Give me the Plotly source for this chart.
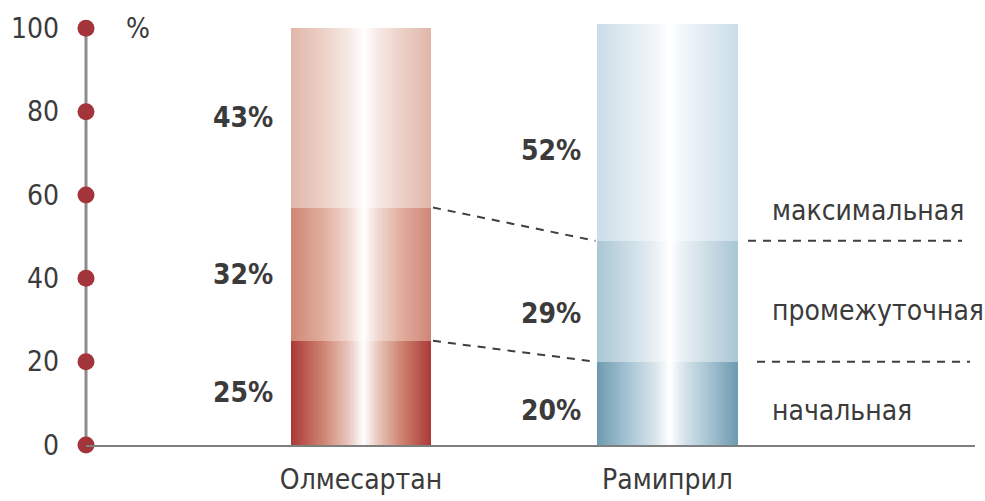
import plotly.graph_objects as go

# --- data -------------------------------------------------------------
drugs = ["Олмесартан", "Рамиприл"]
levels = ["начальная", "промежуточная", "максимальная"]
olmesartan = [25, 32, 43]
ramipril = [20, 29, 52]
y_ticks = [0, 20, 40, 60, 80, 100]

# --- styling ----------------------------------------------------------
FONT = "Liberation Sans Narrow, DejaVu Sans Condensed, Roboto, sans-serif"
TEXT = "#3b3b3b"
DOT = "#a3343a"
# (edge colour, mid-tone) for each level, bottom -> top
palette = [
    [("#ab3838", "#cf8672"), ("#cf8676", "#e1ae9f"), ("#e1b7a9", "#ecd1c7")],  # Олмесартан
    [("#6e9bb0", "#aac6d4"), ("#aac7d5", "#cddde6"), ("#cbdde7", "#e0ebf1")],  # Рамиприл
]
bar_centers = [2.75, 5.815]
bar_w = 1.40
N_STRIPS = 70
HIGHLIGHT = 0.52  # position of the white sheen across a bar


def hex_rgb(h):
    h = h.lstrip("#")
    return [int(h[i:i + 2], 16) for i in (0, 2, 4)]


def lerp(a, b, w):
    return [a[i] + (b[i] - a[i]) * w for i in range(3)]


def sheen_colour(edge, mid, d):
    """d = 0 at the highlight, 1 at the bar edge."""
    white = [255, 255, 255]
    e, m = hex_rgb(edge), hex_rgb(mid)
    light = lerp(m, white, 0.55)
    stops = [(0.0, white), (0.05, lerp(light, white, 0.75)), (0.2, light), (0.55, m), (1.0, e)]
    for (d0, c0), (d1, c1) in zip(stops[:-1], stops[1:]):
        if d <= d1:
            c = lerp(c0, c1, (d - d0) / (d1 - d0))
            break
    else:
        c = e
    return "rgb({},{},{})".format(*[round(v) for v in c])


series = [olmesartan, ramipril]
fig = go.Figure()

# stacked bars drawn as thin vertical strips to give a metallic sheen
strip_w = bar_w / N_STRIPS
for li in range(len(levels)):
    xs, ys, cols = [], [], []
    for bi, vals in enumerate(series):
        edge, mid = palette[bi][li]
        for k in range(N_STRIPS):
            t = (k + 0.5) / N_STRIPS
            d = (HIGHLIGHT - t) / HIGHLIGHT if t < HIGHLIGHT else (t - HIGHLIGHT) / (1 - HIGHLIGHT)
            xs.append(bar_centers[bi] - bar_w / 2 + t * bar_w)
            ys.append(vals[li])
            cols.append(sheen_colour(edge, mid, min(d, 1.0)))
    fig.add_bar(
        x=xs, y=ys, width=strip_w * 1.15,
        marker=dict(color=cols, line=dict(width=0)),
        showlegend=False, hoverinfo="skip",
    )


def cumulative(vals):
    out, s = [], 0
    for v in vals:
        s += v
        out.append(s)
    return out


cum_o = cumulative(olmesartan)
cum_r = cumulative(ramipril)
DASH = dict(color="#3f3f3f", width=2, dash="8px,7px")

# dashed connectors between the two bars
for k in range(len(levels) - 1):
    fig.add_scatter(
        x=[bar_centers[0] + bar_w / 2 + 0.02, bar_centers[1] - bar_w / 2 - 0.02],
        y=[cum_o[k], cum_r[k]],
        mode="lines", line=DASH, showlegend=False, hoverinfo="skip",
    )
# dashed guides to the right of the second bar
guide_x = [[6.71, 8.84], [6.62, 8.76]]
for k in range(len(levels) - 1):
    fig.add_scatter(
        x=guide_x[k], y=[cum_r[k], cum_r[k]],
        mode="lines", line=DASH, showlegend=False, hoverinfo="skip",
    )

# vertical axis line (paper x so it is not clipped at the plot edge)
fig.add_shape(type="line", x0=0, x1=0, y0=0, y1=max(y_ticks), xref="paper", yref="y",
              line=dict(color="#8c8c8c", width=3), layer="below")

# y-axis dots
fig.add_scatter(
    x=[0] * len(y_ticks), y=y_ticks, mode="markers",
    marker=dict(color=DOT, size=17, line=dict(width=0)),
    cliponaxis=False, showlegend=False, hoverinfo="skip",
)

# percentage labels
label_x = [1.57, 4.65]
label_shift = [[0, 0, 0], [-7, -12, -18]]
for bi, vals in enumerate(series):
    cum = cumulative(vals)
    for li, v in enumerate(vals):
        mid = cum[li] - v / 2
        fig.add_annotation(
            x=label_x[bi], y=mid, text="<b>{}%</b>".format(v), showarrow=False,
            yshift=label_shift[bi][li],
            font=dict(family=FONT, size=28, color=TEXT),
        )

# level names on the right
level_y = [8.4, 32.4, 56.2]
for li, name in enumerate(levels):
    fig.add_annotation(
        x=6.84, y=level_y[li], text=name, showarrow=False, xanchor="left",
        font=dict(family=FONT, size=28, color=TEXT),
    )

fig.add_annotation(
    x=0.52, y=100, text="%", showarrow=False, xanchor="center",
    font=dict(family=FONT, size=28, color=TEXT),
)

fig.update_layout(
    width=985, height=501,
    margin=dict(l=86, r=10, t=20, b=56),
    paper_bgcolor="white", plot_bgcolor="white",
    barmode="stack",
    font=dict(family=FONT, color=TEXT, size=28),
    xaxis=dict(
        range=[0, 8.89], showgrid=False, zeroline=False, automargin=False,
        showline=True, linecolor="#7f7f7f", linewidth=2,
        tickvals=bar_centers, ticktext=drugs, ticks="", ticklabelstandoff=8,
        tickfont=dict(family=FONT, size=28, color=TEXT),
    ),
    yaxis=dict(
        range=[0, 102], showgrid=False, zeroline=False, showline=False, automargin=False,
        tickvals=y_ticks, ticks="", ticklabelstandoff=26,
        tickfont=dict(family=FONT, size=28, color=TEXT),
    ),
)

fig.write_html("out.html")
